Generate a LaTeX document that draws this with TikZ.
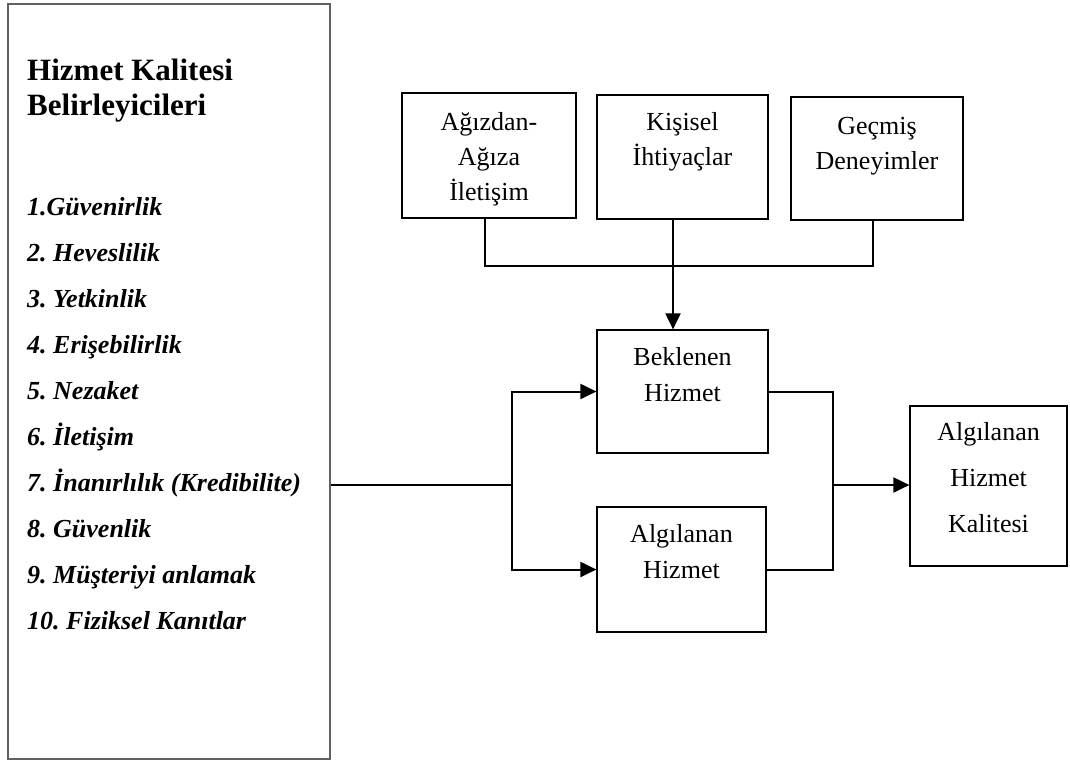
\documentclass[tikz,border=0pt]{standalone}
\usepackage{fontspec}
\setmainfont{Liberation Serif}
\usetikzlibrary{arrows.meta}
\frenchspacing
% strut that fixes the height of a block's first line
\newcommand\lineone[1]{\rule{0pt}{#1pt}}
\tikzset{
  box/.style={draw=black, line width=1.2pt, inner sep=0pt, fill=white},
  bigbox/.style={draw=black!62, line width=2pt, inner sep=0pt, anchor=north west},
  conn/.style={draw=black, line width=2pt},
  arr/.style={conn, -{Triangle[length=16pt,width=15pt]}},
  boxtext/.style={anchor=north, inner sep=0pt, align=center},
  item/.style={anchor=base west, inner sep=0pt, font=\fontsize{26}{30}\selectfont\bfseries\itshape},
}
\begin{document}
\begin{tikzpicture}[x=1pt, y=-1pt]
\useasboundingbox (0,0) rectangle (1070,761);

% determinants panel
\node[bigbox, minimum width=322pt, minimum height=755pt] (lb) at (7,3) {};
\node[anchor=north west, inner sep=0pt, align=left,
      font=\fontsize{31}{35}\selectfont\bfseries] (ttl) at (27,49)
  {\lineone{31}Hizmet Kalitesi\\Belirleyicileri};
\foreach \t [count=\i] in {1.Güvenirlik, 2. Heveslilik, 3. Yetkinlik,
    4. Erişebilirlik, 5. Nezaket, 6. İletişim, 7. İnanırlılık (Kredibilite),
    8. Güvenlik, 9. Müşteriyi anlamak, 10. Fiziksel Kanıtlar}
  \node[item] (it\i) at (27,{215+46.1*(\i-1)}) {\t};

% expectation sources
\node[box, minimum width=174pt, minimum height=125pt] (ag) at (489,155.5) {};
\node[box, minimum width=171pt, minimum height=124pt] (ki) at (682.5,157) {};
\node[box, minimum width=172pt, minimum height=123pt] (ge) at (877,158.5) {};
\node[boxtext, font=\fontsize{26}{35}\selectfont] (agt) at (ag.center |- 0,104)
  {\lineone{26}Ağızdan-\\Ağıza\\İletişim};
\node[boxtext, font=\fontsize{26}{35}\selectfont] (kit) at (ki.center |- 0,104)
  {\lineone{26}Kişisel\\İhtiyaçlar};
\node[boxtext, font=\fontsize{26}{35}\selectfont] (get) at (ge.center |- 0,108)
  {\lineone{26}Geçmiş\\Deneyimler};

% expected / perceived service
\node[box, minimum width=171pt, minimum height=123pt] (bk) at (682.5,391.5) {};
\node[box, minimum width=169pt, minimum height=125pt] (ah) at (681.5,569.5) {};
\node[boxtext, font=\fontsize{26}{36}\selectfont] (bkt) at (bk.center |- 0,339)
  {\lineone{26}Beklenen\\Hizmet};
\node[boxtext, font=\fontsize{26}{36}\selectfont] (aht) at (ah.center |- 0,516)
  {\lineone{26}Algılanan\\Hizmet};

% perceived service quality
\node[box, minimum width=157pt, minimum height=160pt] (rb) at (988.5,486) {};
\node[boxtext, font=\fontsize{26}{46}\selectfont] (rbt) at (rb.center |- 0,414)
  {\lineone{26}Algılanan\\Hizmet\\Kalitesi};

% junction points
\coordinate (jl) at (485,266);
\coordinate (jm) at (673,266);
\coordinate (jr) at (873,266);
\coordinate (sp) at (512,485);
\coordinate (mr) at (833,485);

% sources merge into expected service
\draw[conn] (jl |- ag.south) -- (jl) -- (jr) -- (jr |- ge.south);
\draw[conn] (jm |- ki.south) -- (jm);
\draw[arr] (jm) -- (jm |- bk.north);

% determinants feed both services
\draw[conn] (lb.east |- sp) -- (sp);
\draw[arr] (sp) |- (bk.west);
\draw[arr] (sp) |- (ah.west);

% both services combine into perceived quality
\draw[conn] (bk.east) -| (mr |- ah.east) -- (ah.east);
\draw[arr] (mr) -- (mr -| rb.west);
\end{tikzpicture}
\end{document}
